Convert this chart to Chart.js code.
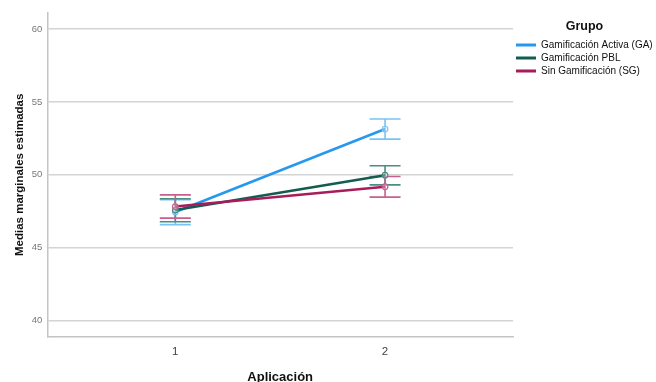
<!DOCTYPE html>
<html lang="es">
<head>
  <meta charset="UTF-8">
  <title>Medias marginales estimadas</title>
  <style>
    body { margin: 0; background: #fff; }
    #wrap { width: 656px; height: 382px; }
  </style>
</head>
<body>
<div id="wrap"><canvas id="myChart" width="656" height="382"></canvas></div>

<script src="https://cdn.jsdelivr.net/npm/chart.js"></script>
<script>
  // Datos
  var aplicaciones = [1, 2];
  var grupos = ['Gamificación Activa (GA)', 'Gamificación PBL', 'Sin Gamificación (SG)'];
  var mediasGA = [47.45, 53.14];
  var mediasPBL = [47.58, 49.97];
  var mediasSG = [47.82, 49.18];
  var infGA = [46.58, 52.45];
  var supGA = [48.3, 53.83];
  var infPBL = [46.78, 49.31];
  var supPBL = [48.36, 50.62];
  var infSG = [47.03, 48.47];
  var supSG = [48.62, 49.88];
  var ticksY = [40, 45, 50, 55, 60];

  var colores = ['rgb(38,152,238)', 'rgb(18,92,80)', 'rgb(168,28,90)'];
  var coloresError = ['rgb(120,195,245)', 'rgb(72,142,130)', 'rgb(200,95,140)'];

  function puntos(medias) {
    return aplicaciones.map(function (a, i) { return { x: a, y: medias[i] }; });
  }

  var intervalos = [[infGA, supGA], [infPBL, supPBL], [infSG, supSG]];

  // Barras de error (IC 95%)
  var barrasError = {
    id: 'barrasError',
    beforeDatasetsDraw: function (chart) {
      var ctx = chart.ctx;
      var xs = chart.scales.x, ys = chart.scales.y;
      ctx.save();
      ctx.lineWidth = 1.6;
      intervalos.forEach(function (iv, d) {
        ctx.strokeStyle = coloresError[d];
        aplicaciones.forEach(function (a, i) {
          var px = xs.getPixelForValue(a);
          var y1 = ys.getPixelForValue(iv[0][i]);
          var y2 = ys.getPixelForValue(iv[1][i]);
          ctx.beginPath();
          ctx.moveTo(px, y1); ctx.lineTo(px, y2);
          ctx.moveTo(px - 15.5, y1); ctx.lineTo(px + 15.5, y1);
          ctx.moveTo(px - 15.5, y2); ctx.lineTo(px + 15.5, y2);
          ctx.stroke();
        });
      });
      ctx.restore();
    }
  };

  var series = [mediasGA, mediasPBL, mediasSG];
  var datasets = series.map(function (m, d) {
    return {
      label: grupos[d],
      data: puntos(m),
      borderColor: colores[d],
      backgroundColor: colores[d],
      borderWidth: 2.5,
      pointRadius: 2.8,
      pointBorderWidth: 1.2,
      pointBackgroundColor: 'rgba(255,255,255,0.3)',
      pointBorderColor: coloresError[d],
      order: 3 - d
    };
  });

  Chart.defaults.font.family = '"Liberation Sans", Arial, sans-serif';

  var ctx = document.getElementById('myChart').getContext('2d');
  var myChart = new Chart(ctx, {
    type: 'line',
    data: { datasets: datasets },
    options: {
      responsive: false,
      animation: false,
      layout: { padding: { top: 13, left: 13, right: 0, bottom: -3 } },
      scales: {
        x: {
          type: 'linear',
          min: 0.39,
          max: 2.61,
          afterBuildTicks: function (axis) {
            axis.ticks = aplicaciones.map(function (v) { return { value: v }; });
          },
          grid: { display: false, drawTicks: false },
          border: { color: '#c4c4c4', width: 1.5 },
          ticks: { color: '#444', font: { size: 11.5 }, padding: 8 },
          title: { display: true, text: 'Aplicación', color: '#111', font: { size: 13, weight: 'bold' }, padding: { top: 3, bottom: 0 } }
        },
        y: {
          min: 38.9,
          max: 61.1,
          afterBuildTicks: function (axis) {
            axis.ticks = ticksY.map(function (v) { return { value: v }; });
          },
          grid: { color: '#d4d4d4', lineWidth: 1.5, drawTicks: false },
          border: { color: '#c4c4c4', width: 1.5 },
          ticks: { color: '#777', font: { size: 9.5 }, padding: 5 },
          title: { display: true, text: 'Medias marginales estimadas', color: '#111', font: { size: 11.5, weight: 'bold' }, padding: { top: 0, bottom: 0 } }
        }
      },
      plugins: {
        legend: {
          position: 'right',
          align: 'start',
          maxWidth: 143,
          title: { display: true, text: 'Grupo', color: '#111', font: { size: 12.5, weight: 'bold' }, padding: { top: 7, bottom: 2 } },
          labels: {
            boxWidth: 20,
            boxHeight: 3,
            padding: 3,
            color: '#333',
            font: { size: 10 },
            generateLabels: function (chart) {
              return chart.data.datasets.map(function (ds, i) {
                return { text: ds.label, fillStyle: colores[i], strokeStyle: colores[i], lineWidth: 0, datasetIndex: i };
              });
            }
          }
        },
        tooltip: { enabled: false }
      }
    },
    plugins: [barrasError]
  });
</script>
</body>
</html>
